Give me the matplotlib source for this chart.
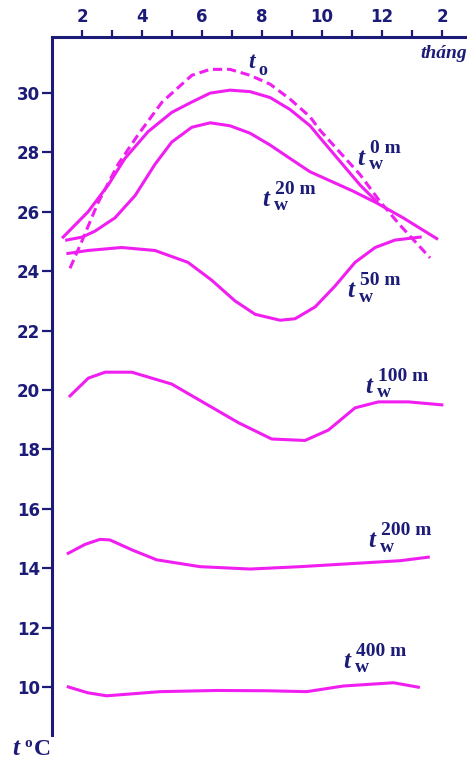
import matplotlib.pyplot as plt

# month readings (1 = Jan, 13/14 = Jan/Feb of next year) and temperature (deg C)
m_air = [1.6, 1.99, 2.53, 3.2, 3.87, 4.67, 5.66, 6.27, 6.93, 7.6, 8.27, 8.93, 9.6, 9.93, 10.6, 11.27, 11.93, 12.6, 13.6]
t_air = [24.1, 25.0, 26.3, 27.6, 28.6, 29.7, 30.6, 30.8, 30.8, 30.6, 30.3, 29.8, 29.2, 28.75, 28.0, 27.25, 26.35, 25.55, 24.45]

m_0 = [1.37, 2.2, 2.87, 3.43, 4.2, 4.99, 5.66, 6.27, 6.93, 7.6, 8.27, 8.93, 9.6, 9.93, 10.6, 11.27, 11.82]
t_0 = [25.15, 26.0, 26.9, 27.8, 28.7, 29.35, 29.7, 30.0, 30.1, 30.05, 29.85, 29.45, 28.9, 28.5, 27.7, 26.9, 26.35]

m_20 = [1.49, 2.0, 2.43, 3.1, 3.77, 4.43, 4.99, 5.66, 6.27, 6.93, 7.6, 8.27, 8.93, 9.6, 9.93, 11.03, 11.82, 12.7, 13.82]
t_20 = [25.05, 25.15, 25.35, 25.8, 26.55, 27.6, 28.35, 28.85, 29.0, 28.9, 28.65, 28.25, 27.8, 27.35, 27.2, 26.7, 26.3, 25.8, 25.1]

m_50 = [1.53, 2.2, 3.32, 4.43, 5.53, 6.32, 7.1, 7.77, 8.6, 9.1, 9.77, 10.43, 11.1, 11.77, 12.43, 13.27]
t_50 = [24.6, 24.7, 24.8, 24.7, 24.3, 23.7, 23.0, 22.55, 22.35, 22.4, 22.8, 23.5, 24.3, 24.8, 25.05, 25.15]

m_100 = [1.6, 2.21, 2.77, 3.66, 4.99, 6.1, 7.21, 8.32, 9.43, 10.21, 11.1, 11.88, 12.88, 13.99]
t_100 = [19.8, 20.4, 20.6, 20.6, 20.2, 19.55, 18.9, 18.35, 18.3, 18.65, 19.4, 19.6, 19.6, 19.5]

m_200 = [1.54, 2.1, 2.6, 2.93, 3.7, 4.49, 5.93, 7.6, 9.27, 10.93, 12.6, 13.54]
t_200 = [14.5, 14.8, 14.97, 14.95, 14.6, 14.28, 14.05, 13.97, 14.05, 14.15, 14.25, 14.37]

m_400 = [1.54, 2.2, 2.82, 4.6, 6.49, 8.16, 9.49, 10.71, 12.38, 13.21]
t_400 = [10.0, 9.8, 9.7, 9.84, 9.88, 9.87, 9.84, 10.03, 10.14, 9.99]

month_ticks = [2, 4, 6, 8, 10, 12, 14]
month_labels = ['2', '4', '6', '8', '10', '12', '2']
temp_ticks = [10, 12, 14, 16, 18, 20, 22, 24, 26, 28, 30]

navy = '#1c1c78'
pink = '#f01ef0'

fig = plt.figure(figsize=(4.67, 7.62), dpi=100)
ax = fig.add_axes([52 / 467, 27 / 762, 415 / 467, 698 / 762])

lw = 2.2
ax.plot(m_air, t_air, color=pink, lw=lw, dashes=(3, 1.6))
ax.plot(m_0, t_0, color=pink, lw=lw)
ax.plot(m_20, t_20, color=pink, lw=lw)
ax.plot(m_50, t_50, color=pink, lw=lw)
ax.plot(m_100, t_100, color=pink, lw=lw)
ax.plot(m_200, t_200, color=pink, lw=lw)
ax.plot(m_400, t_400, color=pink, lw=lw)

ax.set_xlim(1, 14.83)
ax.set_ylim(8.38, 31.89)

# axes: only top and left lines
for s in ['right', 'bottom']:
    ax.spines[s].set_visible(False)
for s in ['top', 'left']:
    ax.spines[s].set_color(navy)
    ax.spines[s].set_linewidth(2.2)

ax.xaxis.tick_top()
ax.set_xticks(month_ticks)
ax.set_xticklabels(month_labels)
ax.set_xticks([3, 5, 7, 9, 11, 13], minor=True)
ax.tick_params(axis='x', which='both', direction='out', length=5, width=1.6, color=navy,
               labelcolor=navy, labelsize=12, pad=3)
ax.set_yticks(temp_ticks)
ax.tick_params(axis='y', direction='out', length=7, width=1.6, color=navy,
               labelcolor=navy, labelsize=12, pad=1.5)
for lab in ax.get_xticklabels() + ax.get_yticklabels():
    lab.set_fontweight('bold')
    lab.set_family('DejaVu Sans')

serif = 'Liberation Serif'


def depth_label(x, y, depth):
    # t with subscript w and superscript depth, positioned in data coords
    ax.text(x, y, 't', color=navy, fontsize=18, family=serif, style='italic',
            fontweight='bold', ha='left', va='baseline')
    ax.text(x + 0.4, y - 0.15, 'w', color=navy, fontsize=14, family=serif,
            fontweight='bold', ha='left', va='baseline')
    ax.text(x + 0.42, y + 0.4, depth, color=navy, fontsize=14, family=serif,
            fontweight='bold', ha='left', va='baseline')


ax.text(7.55, 30.85, 't', color=navy, fontsize=17, family=serif, style='italic',
        fontweight='bold', ha='left', va='baseline')
ax.text(7.88, 30.6, 'o', color=navy, fontsize=13, family=serif,
        fontweight='bold', ha='left', va='baseline')

depth_label(11.17, 27.58, '0 m')
depth_label(8.0, 26.2, '20 m')
depth_label(10.83, 23.13, '50 m')
depth_label(11.43, 19.9, '100 m')
depth_label(11.53, 14.71, '200 m')
depth_label(10.7, 10.64, '400 m')

ax.text(1.0, 0.977, 'tháng', transform=ax.transAxes, color=navy, fontsize=14,
        family=serif, style='italic', fontweight='bold', ha='right', va='center')

fig.text(12 / 467, 1 - 755 / 762, 't', color=navy, fontsize=18, family=serif,
         style='italic', fontweight='bold', ha='left', va='baseline')
fig.text(24 / 467, 1 - 747 / 762, 'o', color=navy, fontsize=11, family=serif,
         fontweight='bold', ha='left', va='baseline')
fig.text(34 / 467, 1 - 755 / 762, 'C', color=navy, fontsize=17, family=serif,
         fontweight='bold', ha='left', va='baseline')

fig.savefig('out.png', dpi=100)
